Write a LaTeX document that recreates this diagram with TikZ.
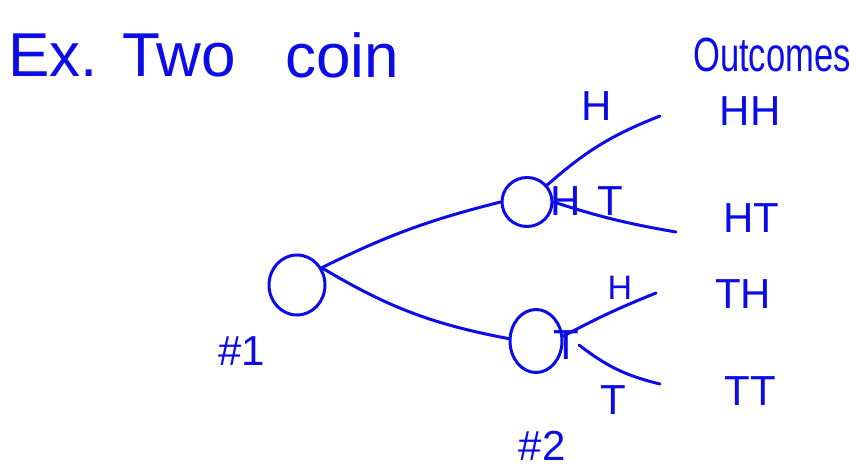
\documentclass[tikz,border=0pt]{standalone}
\usepackage{fontspec}
\setmainfont{Liberation Sans}
\usetikzlibrary{shapes.geometric}
\definecolor{ink}{RGB}{12,12,232}
\tikzset{
  pen/.style={draw=ink, line width=3pt, line cap=round},
  state/.style={ellipse, pen, inner sep=0pt},
  word/.style={text=ink, inner sep=0pt, anchor=center},
  big/.style={word, font=\fontsize{62}{62}\selectfont},
  lbl/.style={word, font=\fontsize{42}{42}\selectfont},
  small/.style={word, font=\fontsize{34}{34}\selectfont},
}
\begin{document}
\begin{tikzpicture}[x=1pt,y=-1pt]
\useasboundingbox (0,0) rectangle (851,473);
% title
\node[big, anchor=base west] (ex) at (8,77) {Ex.};
\node[big, anchor=base west] (two) at (122,77) {Two};
\node[big, anchor=base west] (coin) at (285,78) {coin};
\node[word, anchor=base west, font=\fontsize{48}{48}\selectfont, xscale=0.72] (outc) at (693,72) {Outcomes};
% states
\node[state, minimum width=56pt, minimum height=60pt] (n1) at (297,285) {};
\node[state, minimum width=50pt, minimum height=49pt] (n2a) at (527,202) {};
\node[state, minimum width=52pt, minimum height=63pt] (n2b) at (536,341) {};
\node[lbl] (s1) at (242,351) {\#1};
\node[lbl] (s2) at (542,446) {\#2};
\node[lbl] (ha) at (566,201) {H};
\node[lbl] (tb) at (566,345) {T};
% branch labels
\node[lbl] (bh1) at (597,106) {H};
\node[lbl] (bt1) at (610,201) {T};
\node[small] (bh2) at (620,288) {H};
\node[lbl] (bt2) at (613,400) {T};
% outcomes
\node[lbl] (hh) at (750,111) {HH};
\node[lbl] (ht) at (751,218) {HT};
\node[lbl] (th) at (743,294) {TH};
\node[lbl] (tt) at (750,391) {TT};
% branch ends
\coordinate (e1) at (660,116);
\coordinate (e2) at (676,232);
\coordinate (e3) at (656,293);
\coordinate (e4) at (660,384);
% connectors
\draw[pen] (n1.35) to[bend left=6] (n2a.west);
\draw[pen] (n1.35) to[bend right=10] (n2b.175);
\draw[pen] (n2a.40) to[bend left=10] (e1);
\draw[pen] (n2a.east) to[bend right=4] (e2);
\draw[pen] (n2b.10) to[bend left=3] (e3);
\draw[pen] (tb.east) to[bend right=12] (e4);
\end{tikzpicture}
\end{document}
